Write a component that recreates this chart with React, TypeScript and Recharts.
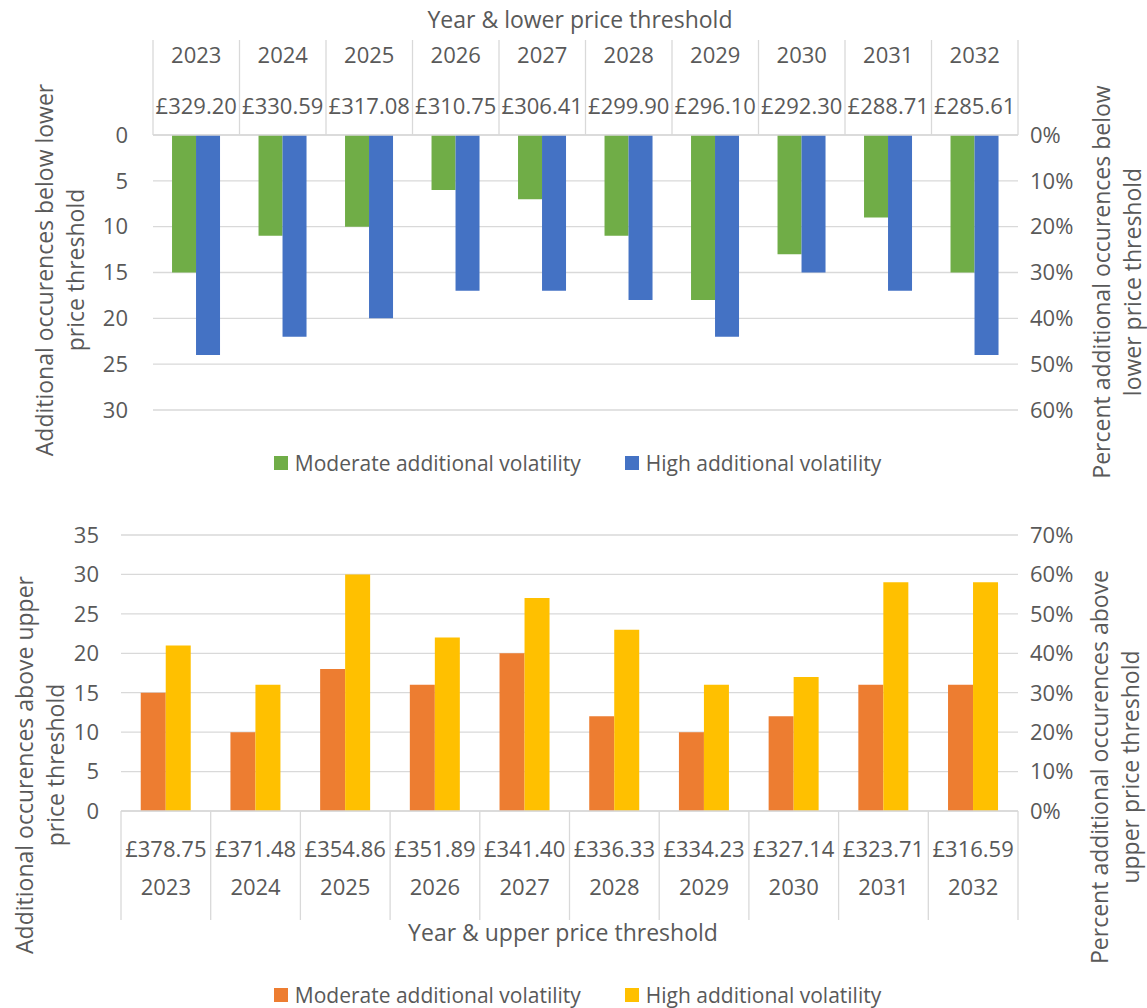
import { BarChart, Bar, XAxis, YAxis, CartesianGrid, Legend } from "recharts";

const FONT = '"Open Sans", sans-serif';
const TEXT = "#595959";
const GRID = "#D9D9D9";
const FS = 22;
const TITLE_FS = 23;

const years = ["2023", "2024", "2025", "2026", "2027", "2028", "2029", "2030", "2031", "2032"];
const lowerThresholds = ["£329.20", "£330.59", "£317.08", "£310.75", "£306.41", "£299.90", "£296.10", "£292.30", "£288.71", "£285.61"];
const upperThresholds = ["£378.75", "£371.48", "£354.86", "£351.89", "£341.40", "£336.33", "£334.23", "£327.14", "£323.71", "£316.59"];
const seriesNames = ["Moderate additional volatility", "High additional volatility"];

// occurrences below lower threshold
const belowModerate = [15, 11, 10, 6, 7, 11, 18, 13, 9, 15];
const belowHigh = [24, 22, 20, 17, 17, 18, 22, 15, 17, 24];
// occurrences above upper threshold
const aboveModerate = [15, 10, 18, 16, 20, 12, 10, 12, 16, 16];
const aboveHigh = [21, 16, 30, 22, 27, 23, 16, 17, 29, 29];

const belowCountTicks = [0, 5, 10, 15, 20, 25, 30];
const belowPctTicks = [0, 0.1, 0.2, 0.3, 0.4, 0.5, 0.6];
const aboveCountTicks = [0, 5, 10, 15, 20, 25, 30, 35];
const abovePctTicks = [0, 0.1, 0.2, 0.3, 0.4, 0.5, 0.6, 0.7];

const belowRows = years.map((year, i) => ({ year, moderate: belowModerate[i], high: belowHigh[i] }));
const aboveRows = years.map((year, i) => ({ year, moderate: aboveModerate[i], high: aboveHigh[i] }));

const pct = (v: number) => `${Math.round(v * 100)}%`;
const tickStyle = { fill: TEXT, fontSize: FS, fontFamily: FONT };

function CategoryTick(props: any) {
  const { x, index, rows, rowY, sepTop, sepBottom, band } = props;
  const left = x - band / 2;
  const isLast = index === rows[0].length - 1;
  return (
    <g>
      <line x1={left} x2={left} y1={sepTop} y2={sepBottom} stroke={GRID} strokeWidth={1.3} />
      {isLast && <line x1={left + band} x2={left + band} y1={sepTop} y2={sepBottom} stroke={GRID} strokeWidth={1.3} />}
      {rows.map((r: string[], k: number) => (
        <text key={k} x={x} y={rowY[k]} textAnchor="middle" fill={TEXT} fontSize={FS} fontFamily={FONT}>
          {r[index]}
        </text>
      ))}
    </g>
  );
}

function AxisTitle({ px, py, text }: { px: number; py: number; text: string }) {
  return (
    <text x={px} y={py} textAnchor="middle" fill={TEXT} fontSize={TITLE_FS} fontFamily={FONT}>
      {text}
    </text>
  );
}

function SideTitle({ px, py, lines }: { px: number; py: number; lines: string[] }) {
  return (
    <text x={px} y={py} transform={`rotate(-90 ${px} ${py})`} textAnchor="middle" fill={TEXT} fontSize={TITLE_FS} fontFamily={FONT}>
      {lines.map((l, i) => (
        <tspan key={i} x={px} dy={i === 0 ? 0 : 31}>
          {l}
        </tspan>
      ))}
    </text>
  );
}

function LegendRow({ payload }: any) {
  const items = [...(payload || [])].sort((a: any, b: any) => seriesNames.indexOf(a.value) - seriesNames.indexOf(b.value));
  return (
    <div style={{ display: "flex", justifyContent: "center", gap: 44, fontFamily: FONT, fontSize: 21, color: TEXT, lineHeight: "28px" }}>
      {items.map((p: any) => (
        <div key={p.value} style={{ display: "flex", alignItems: "center" }}>
          <span style={{ display: "inline-block", width: 14, height: 14, background: p.color, marginRight: 7 }} />
          <span>{p.value}</span>
        </div>
      ))}
    </div>
  );
}

export default function App() {
  return (
    <div style={{ position: "absolute", left: 0, top: 0, width: 1147, height: 1008, background: "#fff" }}>
      <BarChart width={1147} height={500} data={belowRows} margin={{ top: 0, right: 0, bottom: 90, left: 0 }} barCategoryGap="22%" barGap={0}>
        <CartesianGrid vertical={false} stroke={GRID} strokeWidth={1.3} />
        <XAxis
          dataKey="year"
          orientation="top"
          height={135}
          interval={0}
          axisLine={{ stroke: GRID, strokeWidth: 1.3 }}
          tickLine={false}
          tick={<CategoryTick rows={[years, lowerThresholds]} rowY={[63, 114]} sepTop={40} sepBottom={135} band={86.5} />}
          label={<AxisTitle px={580} py={28} text="Year & lower price threshold" />}
        />
        <YAxis
          domain={[0, 30]}
          ticks={belowCountTicks}
          reversed
          width={153}
          axisLine={false}
          tickLine={false}
          tickSize={0}
          tickMargin={25}
          tick={tickStyle}
          label={<SideTitle px={53} py={270} lines={[
            "Additional occurences below lower",
            "price threshold",
          ]} />}
        />
        <YAxis
          yAxisId="pct"
          orientation="right"
          domain={[0, 0.6]}
          allowDataOverflow
          ticks={belowPctTicks}
          tickFormatter={pct}
          reversed
          width={129}
          axisLine={false}
          tickLine={false}
          tickSize={0}
          tickMargin={12}
          tick={tickStyle}
          label={<SideTitle px={1110} py={282} lines={[
            "Percent additional occurences below",
            "lower price threshold",
          ]} />}
        />
        <Legend content={<LegendRow />} verticalAlign="middle" align="center" wrapperStyle={{ top: 449, left: 4, width: 1147 }} />
        <Bar dataKey="moderate" name={seriesNames[0]} fill="#70AD47" isAnimationActive={false} />
        <Bar dataKey="high" name={seriesNames[1]} fill="#4472C4" isAnimationActive={false} />
      </BarChart>

      <BarChart width={1147} height={508} data={aboveRows} margin={{ top: 35, right: 0, bottom: 97, left: 0 }} barCategoryGap="22%" barGap={0}>
        <CartesianGrid vertical={false} stroke={GRID} strokeWidth={1.3} />
        <XAxis
          dataKey="year"
          orientation="bottom"
          height={100}
          interval={0}
          axisLine={{ stroke: GRID, strokeWidth: 1.3 }}
          tickLine={false}
          tick={<CategoryTick rows={[upperThresholds, years]} rowY={[357, 395]} sepTop={311} sepBottom={420} band={89.7} />}
          label={<AxisTitle px={563} py={441} text="Year & upper price threshold" />}
        />
        <YAxis
          domain={[0, 35]}
          ticks={aboveCountTicks}
          width={121}
          axisLine={false}
          tickLine={false}
          tickSize={0}
          tickMargin={22}
          tick={tickStyle}
          label={<SideTitle px={33} py={265} lines={[
            "Additional occurences above upper",
            "price threshold",
          ]} />}
        />
        <YAxis
          yAxisId="pct"
          orientation="right"
          domain={[0, 0.7]}
          allowDataOverflow
          ticks={abovePctTicks}
          tickFormatter={pct}
          width={129}
          axisLine={false}
          tickLine={false}
          tickSize={0}
          tickMargin={12}
          tick={tickStyle}
          label={<SideTitle px={1108} py={267} lines={[
            "Percent additional occurences above",
            "upper price threshold",
          ]} />}
        />
        <Legend content={<LegendRow />} verticalAlign="middle" align="center" wrapperStyle={{ top: 481, left: 4, width: 1147 }} />
        <Bar dataKey="moderate" name={seriesNames[0]} fill="#ED7D31" isAnimationActive={false} />
        <Bar dataKey="high" name={seriesNames[1]} fill="#FFC000" isAnimationActive={false} />
      </BarChart>
    </div>
  );
}
